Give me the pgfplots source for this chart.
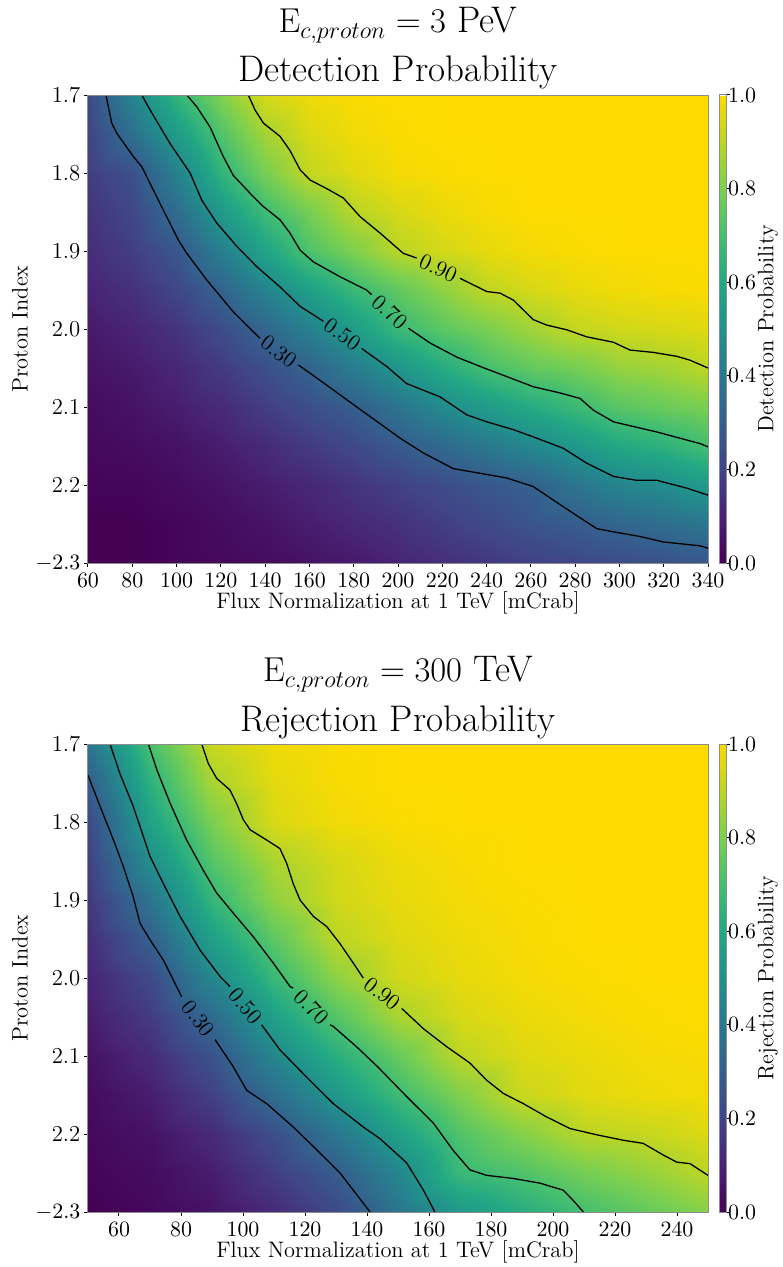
\documentclass[border=0pt]{standalone}
\usepackage{pgfplots}
\pgfplotsset{compat=1.18}
\pgfplotsset{colormap={myvir}{rgb255=(68,1,84) rgb255=(72,36,117) rgb255=(65,68,135) rgb255=(53,95,141) rgb255=(42,120,142) rgb255=(33,145,140) rgb255=(34,168,132) rgb255=(68,190,112) rgb255=(122,207,81) rgb255=(188,214,36) rgb255=(253,219,0)}}
\tikzset{
  clab/.style={font=\fontsize{11.2}{13}\selectfont, inner sep=0pt},
  ttl/.style={font=\fontsize{18.5}{22}\selectfont, anchor=base, inner sep=0pt},
}
\begin{document}
\begin{tikzpicture}[x=1pt,y=1pt]
\pgfplotsset{
  panel/.style={
    scale only axis, width=310pt, height=234pt,
    enlargelimits=false, axis on top, clip mode=individual,
    y dir=reverse, ymin=1.7, ymax=2.3,
    ytick={1.7,1.8,1.9,2.0,2.1,2.2,2.3},
    yticklabels={1.7,1.8,1.9,2.0,2.1,2.2,$-2.3$},
    tick align=outside, tick pos=left, major tick length=1.8pt,
    axis line style={black!45, line width=0.5pt},
    tick style={black, line width=0.5pt},
    ticklabel style={font=\fontsize{11.4}{13}\selectfont},
    yticklabel style={xshift=1.5pt},
    label style={font=\fontsize{11.2}{13}\selectfont},
    ylabel={Proton Index},
    ylabel style={at={(axis description cs:-0.1097,0.5)}, anchor=center},
    xlabel={Flux Normalization at 1 TeV [mCrab]},
    xlabel style={at={(axis description cs:0.5,-0.0962)}, anchor=base},
    colormap name=myvir, point meta min=0, point meta max=1,
    colorbar,
    colorbar style={
      at={(parent axis.north east)}, anchor=north west, xshift=-3pt,
      width=3.7pt,
      axis line style={black!45, line width=0.5pt},
      ytick={0,0.2,0.4,0.6,0.8,1},
      ytick pos=right, yticklabel pos=right,
      tick align=outside, major tick length=1.8pt,
      tick style={black, line width=0.5pt},
      yticklabel style={xshift=-4.5pt, /pgf/number format/fixed, /pgf/number format/fixed zerofill, /pgf/number format/precision=1, font=\fontsize{11.4}{13}\selectfont},
      ylabel style={at={(axis description cs:6.6,0.5)}, anchor=center, font=\fontsize{11.2}{13}\selectfont},
    },
  },
  cline/.style={black, line width=0.65pt, no markers},
}
% ---------------- top panel ----------------
\begin{axis}[panel, at={(44pt,-47.5pt)}, anchor=north west,
  xmin=60, xmax=340, xtick={60,80,...,340},
  colorbar style={ylabel={Detection Probability}}]
\addplot[surf, shader=interp, mesh/cols=15, point meta=explicit] coordinates {
(60,1.70)[0.22] (80,1.70)[0.447] (100,1.70)[0.655] (120,1.70)[0.811] (140,1.70)[0.94] (160,1.70)[0.98] (180,1.70)[0.995] (200,1.70)[1] (220,1.70)[1] (240,1.70)[1] (260,1.70)[1] (280,1.70)[1] (300,1.70)[1] (320,1.70)[1] (340,1.70)[1]

(60,1.75)[0.20] (80,1.75)[0.365] (100,1.75)[0.55] (120,1.75)[0.724] (140,1.75)[0.863] (160,1.75)[0.945] (180,1.75)[0.98] (200,1.75)[0.995] (220,1.75)[1] (240,1.75)[1] (260,1.75)[1] (280,1.75)[1] (300,1.75)[1] (320,1.75)[1] (340,1.75)[1]

(60,1.80)[0.18] (80,1.80)[0.244] (100,1.80)[0.44] (120,1.80)[0.647] (140,1.80)[0.793] (160,1.80)[0.91] (180,1.80)[0.955] (200,1.80)[0.985] (220,1.80)[0.995] (240,1.80)[1] (260,1.80)[1] (280,1.80)[1] (300,1.80)[1] (320,1.80)[1] (340,1.80)[1]

(60,1.85)[0.15] (80,1.85)[0.21] (100,1.85)[0.355] (120,1.85)[0.537] (140,1.85)[0.683] (160,1.85)[0.791] (180,1.85)[0.895] (200,1.85)[0.94] (220,1.85)[0.97] (240,1.85)[0.99] (260,1.85)[1] (280,1.85)[1] (300,1.85)[1] (320,1.85)[1] (340,1.85)[1]

(60,1.90)[0.13] (80,1.90)[0.18] (100,1.90)[0.27] (120,1.90)[0.427] (140,1.90)[0.58] (160,1.90)[0.717] (180,1.90)[0.806] (200,1.90)[0.895] (220,1.90)[0.935] (240,1.90)[0.965] (260,1.90)[0.985] (280,1.90)[0.995] (300,1.90)[1] (320,1.90)[1] (340,1.90)[1]

(60,1.95)[0.10] (80,1.95)[0.14] (100,1.95)[0.21] (120,1.95)[0.317] (140,1.95)[0.447] (160,1.95)[0.563] (180,1.95)[0.669] (200,1.95)[0.754] (220,1.95)[0.829] (240,1.95)[0.905] (260,1.95)[0.94] (280,1.95)[0.965] (300,1.95)[0.98] (320,1.95)[0.99] (340,1.95)[0.995]

(60,2.00)[0.07] (80,2.00)[0.10] (100,2.00)[0.15] (120,2.00)[0.23] (140,2.00)[0.327] (160,2.00)[0.436] (180,2.00)[0.549] (200,2.00)[0.67] (220,2.00)[0.743] (240,2.00)[0.80] (260,2.00)[0.858] (280,2.00)[0.91] (300,2.00)[0.93] (320,2.00)[0.94] (340,2.00)[0.955]

(60,2.05)[0.05] (80,2.05)[0.07] (100,2.05)[0.11] (120,2.05)[0.17] (140,2.05)[0.24] (160,2.05)[0.316] (180,2.05)[0.419] (200,2.05)[0.52] (220,2.05)[0.613] (240,2.05)[0.702] (260,2.05)[0.756] (280,2.05)[0.789] (300,2.05)[0.842] (320,2.05)[0.863] (340,2.05)[0.90]

(60,2.10)[0.03] (80,2.10)[0.05] (100,2.10)[0.08] (120,2.10)[0.12] (140,2.10)[0.18] (160,2.10)[0.24] (180,2.10)[0.294] (200,2.10)[0.384] (220,2.10)[0.474] (240,2.10)[0.547] (260,2.10)[0.612] (280,2.10)[0.672] (300,2.10)[0.738] (320,2.10)[0.77] (340,2.10)[0.80]

(60,2.15)[0.02] (80,2.15)[0.03] (100,2.15)[0.05] (120,2.15)[0.08] (140,2.15)[0.12] (160,2.15)[0.17] (180,2.15)[0.22] (200,2.15)[0.28] (220,2.15)[0.341] (240,2.15)[0.402] (260,2.15)[0.464] (280,2.15)[0.528] (300,2.15)[0.60] (320,2.15)[0.64] (340,2.15)[0.70]

(60,2.20)[0.01] (80,2.20)[0.01] (100,2.20)[0.03] (120,2.20)[0.05] (140,2.20)[0.08] (160,2.20)[0.11] (180,2.20)[0.15] (200,2.20)[0.19] (220,2.20)[0.23] (240,2.20)[0.27] (260,2.20)[0.305] (280,2.20)[0.385] (300,2.20)[0.45] (320,2.20)[0.485] (340,2.20)[0.545]

(60,2.25)[0] (80,2.25)[0] (100,2.25)[0.01] (120,2.25)[0.03] (140,2.25)[0.05] (160,2.25)[0.08] (180,2.25)[0.11] (200,2.25)[0.14] (220,2.25)[0.18] (240,2.25)[0.22] (260,2.25)[0.26] (280,2.25)[0.29] (300,2.25)[0.33] (320,2.25)[0.36] (340,2.25)[0.39]

(60,2.30)[0] (80,2.30)[0] (100,2.30)[0.01] (120,2.30)[0.02] (140,2.30)[0.03] (160,2.30)[0.05] (180,2.30)[0.07] (200,2.30)[0.10] (220,2.30)[0.13] (240,2.30)[0.16] (260,2.30)[0.19] (280,2.30)[0.21] (300,2.30)[0.23] (320,2.30)[0.25] (340,2.30)[0.27]
};
% contour 0.30
\addplot[cline] coordinates {(68.1,1.700) (70.7,1.736) (73.0,1.749) (80.5,1.779) (84.3,1.792) (92.5,1.839) (100.8,1.886) (104.6,1.903) (113.6,1.937) (125.6,1.978) (137.7,2.012)};
\addplot[cline] coordinates {(155.0,2.046) (167.8,2.072) (181.4,2.100) (201.0,2.140) (211.5,2.159) (225.0,2.179) (237.1,2.185) (249.1,2.191) (261.1,2.202) (274.7,2.228) (289.8,2.256) (297.3,2.260) (309.3,2.266) (319.8,2.273) (336.5,2.278) (340,2.281)};
% contour 0.50
\addplot[cline] coordinates {(84.3,1.700) (88.0,1.719) (97.0,1.762) (106.1,1.800) (111.4,1.835) (118.1,1.864) (127.2,1.894) (136.2,1.920) (146.7,1.946) (155.8,1.971) (166.3,1.990)};
\addplot[cline] coordinates {(183.6,2.025) (194.9,2.048) (203.9,2.070) (219.0,2.087) (231.0,2.110) (240.1,2.119) (252.1,2.129) (262.7,2.140) (274.7,2.153) (285.2,2.172) (297.3,2.189) (307.8,2.194) (316.9,2.194) (330.4,2.204) (340,2.213)};
% contour 0.70
\addplot[cline] coordinates {(104.6,1.700) (109.1,1.715) (115.1,1.741) (121.1,1.779) (125.6,1.803) (133.2,1.826) (139.2,1.843) (146.7,1.860) (151.2,1.877) (155.8,1.899) (161.8,1.914) (173.8,1.933) (185.8,1.950) (188.1,1.956)};
\addplot[cline] coordinates {(204.7,1.999) (214.5,2.018) (226.5,2.036) (237.1,2.048) (249.1,2.061) (261.1,2.074) (273.2,2.082) (282.2,2.089) (288.2,2.104) (297.3,2.119) (306.3,2.125) (316.9,2.132) (336.5,2.147) (340,2.151)};
% contour 0.90
\addplot[cline] coordinates {(132.4,1.700) (135.4,1.719) (139.2,1.736) (146.7,1.753) (151.2,1.771) (155.8,1.796) (160.3,1.809) (167.8,1.820) (175.3,1.832) (182.9,1.856) (191.9,1.877) (202.4,1.903) (208.4,1.909)};
\addplot[cline] coordinates {(228.0,1.935) (240.1,1.952) (246.1,1.954) (252.1,1.963) (261.1,1.988) (267.2,1.995) (276.2,2.001) (285.2,2.010) (297.3,2.017) (304.8,2.027) (315.3,2.030) (325.9,2.035) (331.9,2.040) (340,2.050)};
\node[clab, rotate=-36] at (axis cs:146.3,2.029) {0.30};
\node[clab, rotate=-36] at (axis cs:174.9,2.007) {0.50};
\node[clab, rotate=-42] at (axis cs:196.4,1.978) {0.70};
\node[clab, rotate=-25] at (axis cs:218.2,1.922) {0.90};
\node[ttl] at (axis description cs:0.5,1.0278) {Detection Probability};
\node[ttl] at (axis description cs:0.5,1.1325) {$\mathrm{E}_{c,proton} = 3$ PeV};
\end{axis}
% ---------------- bottom panel ----------------
\begin{axis}[panel, at={(44pt,-372pt)}, anchor=north west,
  xmin=50, xmax=250, xtick={60,80,...,240},
  colorbar style={ylabel={Rejection Probability}}]
\addplot[surf, shader=interp, mesh/cols=11, point meta=explicit] coordinates {
(50,1.70)[0.385] (70,1.70)[0.706] (90,1.70)[0.92] (110,1.70)[0.98] (130,1.70)[0.995] (150,1.70)[1] (170,1.70)[1] (190,1.70)[1] (210,1.70)[1] (230,1.70)[1] (250,1.70)[1]

(50,1.75)[0.29] (70,1.75)[0.637] (90,1.75)[0.867] (110,1.75)[0.96] (130,1.75)[0.99] (150,1.75)[1] (170,1.75)[1] (190,1.75)[1] (210,1.75)[1] (230,1.75)[1] (250,1.75)[1]

(50,1.80)[0.22] (70,1.80)[0.574] (90,1.80)[0.801] (110,1.80)[0.945] (130,1.80)[0.98] (150,1.80)[0.995] (170,1.80)[1] (190,1.80)[1] (210,1.80)[1] (230,1.80)[1] (250,1.80)[1]

(50,1.85)[0.19] (70,1.85)[0.486] (90,1.85)[0.732] (110,1.85)[0.874] (130,1.85)[0.94] (150,1.85)[0.975] (170,1.85)[0.99] (190,1.85)[1] (210,1.85)[1] (230,1.85)[1] (250,1.85)[1]

(50,1.90)[0.16] (70,1.90)[0.384] (90,1.90)[0.659] (110,1.90)[0.833] (130,1.90)[0.93] (150,1.90)[0.965] (170,1.90)[0.985] (190,1.90)[0.995] (210,1.90)[1] (230,1.90)[1] (250,1.90)[1]

(50,1.95)[0.13] (70,1.95)[0.30] (90,1.95)[0.561] (110,1.95)[0.748] (130,1.95)[0.90] (150,1.95)[0.95] (170,1.95)[0.975] (190,1.95)[0.99] (210,1.95)[1] (230,1.95)[1] (250,1.95)[1]

(50,2.00)[0.10] (70,2.00)[0.22] (90,2.00)[0.462] (110,2.00)[0.668] (130,2.00)[0.831] (150,2.00)[0.93] (170,2.00)[0.965] (190,2.00)[0.985] (210,2.00)[0.995] (230,2.00)[1] (250,2.00)[1]

(50,2.05)[0.08] (70,2.05)[0.17] (90,2.05)[0.346] (110,2.05)[0.563] (130,2.05)[0.731] (150,2.05)[0.871] (170,2.05)[0.94] (190,2.05)[0.97] (210,2.05)[0.985] (230,2.05)[0.995] (250,2.05)[1]

(50,2.10)[0.05] (70,2.10)[0.12] (90,2.10)[0.255] (110,2.10)[0.46] (130,2.10)[0.623] (150,2.10)[0.766] (170,2.10)[0.90] (190,2.10)[0.95] (210,2.10)[0.97] (230,2.10)[0.985] (250,2.10)[0.99]

(50,2.15)[0.03] (70,2.15)[0.08] (90,2.15)[0.19] (110,2.15)[0.357] (130,2.15)[0.528] (150,2.15)[0.682] (170,2.15)[0.809] (190,2.15)[0.92] (210,2.15)[0.955] (230,2.15)[0.975] (250,2.15)[0.985]

(50,2.20)[0.02] (70,2.20)[0.05] (90,2.20)[0.12] (110,2.20)[0.24] (130,2.20)[0.393] (150,2.20)[0.566] (170,2.20)[0.724] (190,2.20)[0.815] (210,2.20)[0.895] (230,2.20)[0.915] (250,2.20)[0.95]

(50,2.25)[0.01] (70,2.25)[0.03] (90,2.25)[0.08] (110,2.25)[0.18] (130,2.25)[0.29] (150,2.25)[0.46] (170,2.25)[0.67] (190,2.25)[0.72] (210,2.25)[0.79] (230,2.25)[0.84] (250,2.25)[0.90]

(50,2.30)[0] (70,2.30)[0.02] (90,2.30)[0.05] (110,2.30)[0.12] (130,2.30)[0.22] (150,2.30)[0.386] (170,2.30)[0.534] (190,2.30)[0.617] (210,2.30)[0.70] (230,2.30)[0.76] (250,2.30)[0.82]
};
% contour 0.30
\addplot[cline] coordinates {(50,1.740) (53.9,1.780) (58.2,1.823) (61.4,1.857) (64.6,1.896) (66.8,1.930) (70.0,1.951) (74.3,1.977) (79.7,2.020) (80.2,2.024)};
\addplot[cline] coordinates {(91.0,2.079) (96.9,2.114) (101.2,2.144) (107.6,2.161) (116.2,2.191) (122.7,2.216) (131.3,2.250) (141.0,2.300)};
% contour 0.50
\addplot[cline] coordinates {(57.1,1.700) (60.3,1.738) (64.6,1.780) (70.0,1.844) (74.3,1.879) (79.7,1.921) (86.1,1.964) (92.6,1.998) (95.8,2.011)};
\addplot[cline] coordinates {(106.0,2.060) (111.9,2.092) (120.5,2.127) (129.1,2.161) (138.8,2.191) (144.2,2.206) (152.8,2.237) (158.2,2.272) (161.9,2.300)};
% contour 0.70
\addplot[cline] coordinates {(69.5,1.700) (72.2,1.733) (76.5,1.776) (81.8,1.823) (87.2,1.862) (91.5,1.891) (96.9,1.917) (103.3,1.947) (109.8,1.981) (115.2,2.011) (116.2,2.013)};
\addplot[cline] coordinates {(128.1,2.060) (129.1,2.062) (136.6,2.088) (143.5,2.114) (152.8,2.152) (161.4,2.186) (167.8,2.221) (173.2,2.246) (178.6,2.253) (187.2,2.257) (195.8,2.263) (203.3,2.272) (206.5,2.285) (209.8,2.300)};
% contour 0.90
\addplot[cline] coordinates {(86.7,1.700) (88.8,1.725) (91.5,1.744) (95.8,1.759) (97.9,1.776) (100.1,1.797) (102.3,1.810) (107.6,1.823) (111.9,1.834) (114.1,1.853) (116.2,1.879) (118.4,1.900) (122.7,1.921) (127.0,1.934) (131.3,1.956) (135.6,1.981) (138.8,2.000)};
\addplot[cline] coordinates {(151.2,2.039) (158.2,2.065) (165.7,2.088) (173.2,2.109) (178.6,2.131) (184.0,2.148) (190.4,2.161) (197.9,2.178) (205.5,2.193) (214.1,2.201) (222.7,2.208) (229.1,2.212) (235.6,2.227) (239.9,2.236) (244.2,2.238) (250,2.253)};
\node[clab, rotate=-52] at (axis cs:85.6,2.052) {0.30};
\node[clab, rotate=-50] at (axis cs:100.9,2.036) {0.50};
\node[clab, rotate=-45] at (axis cs:122.2,2.037) {0.70};
\node[clab, rotate=-38] at (axis cs:145.0,2.020) {0.90};
\node[ttl] at (axis description cs:0.5,1.0278) {Rejection Probability};
\node[ttl] at (axis description cs:0.5,1.1325) {$\mathrm{E}_{c,proton} = 300$ TeV};
\end{axis}
\pgfresetboundingbox
\useasboundingbox (0,0) rectangle (391pt,-633.5pt);
\end{tikzpicture}
\end{document}
